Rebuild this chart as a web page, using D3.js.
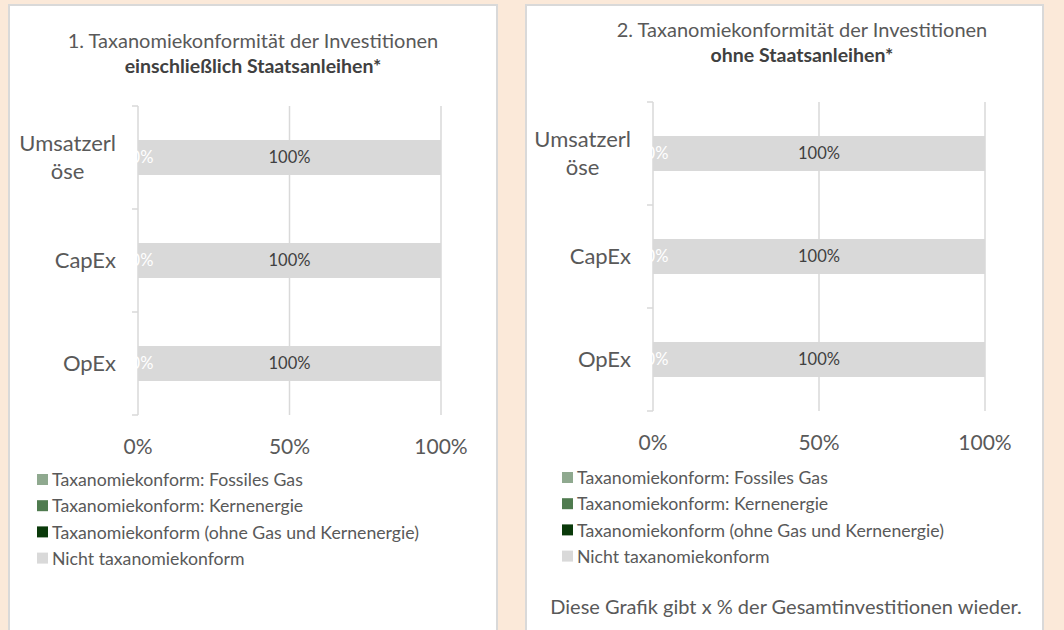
<!DOCTYPE html>
<html>
<head>
<meta charset="utf-8">
<script src="https://cdn.jsdelivr.net/npm/d3@7"></script>
<style>
  body { margin: 0; background: #fbe9d9; }
  text { font-family: Lato, "Open Sans", sans-serif; }
</style>
</head>
<body>
<script>
// data
var categories = ["Umsatzerlöse", "CapEx", "OpEx"];
var categoryLines = [["Umsatzerl", "öse"], ["CapEx"], ["OpEx"]];
var seriesNames = [
  "Taxanomiekonform: Fossiles Gas",
  "Taxanomiekonform: Kernenergie",
  "Taxanomiekonform (ohne Gas und Kernenergie)",
  "Nicht taxanomiekonform"
];
var seriesColors = ["#8fa98f", "#4f7b4f", "#0a3a0a", "#d9d9d9"];
var xTicks = [0, 50, 100];

// chart 1: einschließlich Staatsanleihen
var gasInkl = [0, 0, 0];
var kernInkl = [0, 0, 0];
var ohneInkl = [0, 0, 0];
var nichtInkl = [100, 100, 100];

// chart 2: ohne Staatsanleihen
var gasOhne = [0, 0, 0];
var kernOhne = [0, 0, 0];
var ohneOhne = [0, 0, 0];
var nichtOhne = [100, 100, 100];

var w = 1064;
var h = 630;
var textCol = "#595959";

var svg = d3.select("body")
  .append("svg")
  .attr("width", w)
  .attr("height", h);

function buildRows(a, b, c, d) {
  return categories.map(function(cat, i) {
    return { cat: cat, s0: a[i], s1: b[i], s2: c[i], s3: d[i] };
  });
}

function drawPanel(p) {
  var g = svg.append("g");

  g.append("rect")
    .attr("x", p.px).attr("y", p.py)
    .attr("width", p.pw).attr("height", 700)
    .attr("fill", "#fff")
    .attr("stroke", "#d9d9d9")
    .attr("stroke-width", 2);

  g.append("text")
    .attr("x", p.titleX).attr("y", p.titleY)
    .attr("text-anchor", "middle")
    .attr("font-size", 20)
    .attr("fill", textCol)
    .text(p.title1);
  g.append("text")
    .attr("x", p.titleX).attr("y", p.titleY + 25)
    .attr("text-anchor", "middle")
    .attr("font-size", 19.5)
    .attr("font-weight", "bold")
    .attr("fill", "#404040")
    .text(p.title2);

  var x = d3.scaleLinear().domain([0, 100]).range([p.x0, p.x1]);
  var y = d3.scaleBand().domain(categories).range([p.y0, p.y1])
    .paddingInner(0.66).paddingOuter(0.33);

  // gridlines
  g.selectAll(".grid")
    .data(xTicks)
    .enter()
    .append("line")
    .attr("x1", function(d) { return x(d); })
    .attr("x2", function(d) { return x(d); })
    .attr("y1", p.y0)
    .attr("y2", p.y1)
    .attr("stroke", "#d9d9d9")
    .attr("stroke-width", 1.5);

  // category axis ticks
  var step = (p.y1 - p.y0) / categories.length;
  var tickYs = d3.range(categories.length + 1).map(function(i) { return p.y0 + i * step; });
  g.selectAll(".ytick")
    .data(tickYs)
    .enter()
    .append("line")
    .attr("x1", p.x0 - 6)
    .attr("x2", p.x0)
    .attr("y1", function(d) { return d; })
    .attr("y2", function(d) { return d; })
    .attr("stroke", "#d9d9d9")
    .attr("stroke-width", 1.5);

  var rows = buildRows(p.a, p.b, p.c, p.d);
  var keys = ["s0", "s1", "s2", "s3"];
  var stacked = d3.stack().keys(keys)(rows);

  g.selectAll(".layer")
    .data(stacked)
    .enter()
    .append("g")
    .attr("fill", function(d, i) { return seriesColors[i]; })
    .selectAll("rect")
    .data(function(d) { return d; })
    .enter()
    .append("rect")
    .attr("x", function(d) { return x(d[0]); })
    .attr("y", function(d) { return y(d.data.cat); })
    .attr("width", function(d) { return x(d[1]) - x(d[0]); })
    .attr("height", y.bandwidth());

  // data labels: the 100% one, plus one white label for the (empty) taxonomy part
  [2, 3].forEach(function(si) {
    g.selectAll(".lbl" + si)
      .data(stacked[si])
      .enter()
      .append("text")
      .attr("x", function(d) {
        var v = d[1] - d[0];
        return v === 0 ? x(d[0]) + 4 : x((d[0] + d[1]) / 2);
      })
      .attr("y", function(d) { return y(d.data.cat) + y.bandwidth() / 2; })
      .attr("dy", "0.35em")
      .attr("text-anchor", "middle")
      .attr("font-size", 16.5)
      .attr("fill", function(d) { return d[1] - d[0] === 0 ? "#fff" : "#404040"; })
      .text(function(d) { return (d[1] - d[0]) + "%"; });
  });

  // x tick labels
  g.selectAll(".xlbl")
    .data(xTicks)
    .enter()
    .append("text")
    .attr("x", function(d) { return x(d); })
    .attr("y", p.y1 + 39)
    .attr("text-anchor", "middle")
    .attr("font-size", 21)
    .attr("fill", textCol)
    .text(function(d) { return d + "%"; });

  // category labels (wrapped, block right aligned, lines centered)
  categoryLines.forEach(function(lines, i) {
    var lg = g.append("g");
    var ts = lines.map(function(l) {
      return lg.append("text")
        .attr("font-size", 22)
        .attr("fill", textCol)
        .attr("text-anchor", "middle")
        .text(l);
    });
    var maxW = d3.max(ts, function(t) { return t.node().getComputedTextLength(); });
    var lh = 28;
    var cy = y(categories[i]) + y.bandwidth() / 2 - (lines.length - 1) * lh / 2;
    ts.forEach(function(t, j) {
      t.attr("x", p.x0 - 22 - maxW / 2)
        .attr("y", cy + j * lh)
        .attr("dy", "0.35em");
    });
  });

  // legend
  var leg = g.selectAll(".leg")
    .data(seriesNames)
    .enter()
    .append("g")
    .attr("transform", function(d, i) { return "translate(" + p.legX + "," + (p.legY + i * 26.2) + ")"; });
  leg.append("rect")
    .attr("x", 0).attr("y", -6)
    .attr("width", 11).attr("height", 11)
    .attr("fill", function(d, i) { return seriesColors[i]; });
  leg.append("text")
    .attr("x", 15).attr("y", 0)
    .attr("dy", "0.35em")
    .attr("font-size", 17.7)
    .attr("fill", textCol)
    .text(function(d) { return d; });

  if (p.footer) {
    g.append("text")
      .attr("x", p.footerX).attr("y", p.footerY)
      .attr("text-anchor", "middle")
      .attr("font-size", 20)
      .attr("fill", textCol)
      .text(p.footer);
  }
}

drawPanel({
  px: 9, py: 5, pw: 488,
  title1: "1. Taxanomiekonformität der Investitionen",
  title2: "einschließlich Staatsanleihen*",
  titleX: 253, titleY: 48,
  x0: 138, x1: 441, y0: 106, y1: 415,
  legX: 37, legY: 480,
  a: gasInkl, b: kernInkl, c: ohneInkl, d: nichtInkl
});

drawPanel({
  px: 526, py: 5, pw: 517,
  title1: "2. Taxanomiekonformität der Investitionen",
  title2: "ohne Staatsanleihen*",
  titleX: 802, titleY: 37,
  x0: 653, x1: 985, y0: 102, y1: 411,
  legX: 562, legY: 478,
  a: gasOhne, b: kernOhne, c: ohneOhne, d: nichtOhne,
  footer: "Diese Grafik gibt x % der Gesamtinvestitionen wieder.",
  footerX: 786, footerY: 614
});
</script>
</body>
</html>
